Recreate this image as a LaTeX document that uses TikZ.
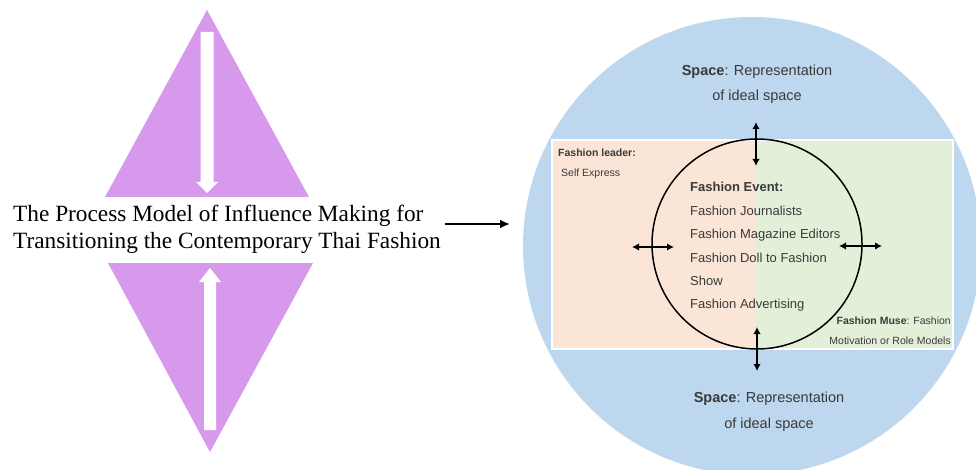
\documentclass[tikz,border=0pt]{standalone}
\usepackage{fontspec}
\setmainfont{Liberation Serif}
\setsansfont{Liberation Sans}
\usetikzlibrary{arrows.meta}
\definecolor{purp}{HTML}{D699EC}
\definecolor{skyb}{HTML}{BDD7EE}
\definecolor{peach}{HTML}{FBE5D6}
\definecolor{lgreen}{HTML}{E2F0D9}
\definecolor{txtg}{HTML}{3A3A3A}
\tikzset{
  titletxt/.style={inner sep=0pt, anchor=base west, font=\fontsize{23.3}{26}\selectfont},
  spacetxt/.style={inner sep=0pt, anchor=base, text=txtg, font=\sffamily\fontsize{14.5}{17}\selectfont},
  evtxt/.style={inner sep=0pt, anchor=base west, text=txtg, font=\sffamily\fontsize{13}{15}\selectfont},
  smalltxt/.style={inner sep=0pt, text=txtg, font=\sffamily\fontsize{10.5}{12}\selectfont},
  dbl/.style={{Latex[length=7pt,width=7.5pt]}-{Latex[length=7pt,width=7.5pt]}, line width=1.8pt, black},
}
\begin{document}
\begin{tikzpicture}[x=1pt,y=-1pt]
\useasboundingbox (0,0) rectangle (976,470);
% left diamond
\fill[purp] (207,10) -- (309,197) -- (105,197) -- cycle;
\fill[purp] (108,263) -- (313,263) -- (210,452) -- cycle;
\fill[white] (200.5,32) -- (213.5,32) -- (213.5,182) -- (218,182) -- (207,193) -- (196,182) -- (200.5,182) -- cycle;
\fill[white] (210,268) -- (221,282) -- (216,282) -- (216,430) -- (204,430) -- (204,282) -- (199,282) -- cycle;
\node[titletxt] (t1) at (13,222) {The Process Model of Influence Making for};
\node[titletxt] (t2) at (13,248) {Transitioning the Contemporary Thai Fashion};
% right big circle
\fill[skyb] (752,246) circle (229);
\fill[peach] (552,140) rectangle (755,349);
\fill[lgreen] (755,140) rectangle (953,349);
\draw[white, line width=1.2pt] (552,140) rectangle (953,349);
\node[draw=black, line width=1.5pt, circle, minimum size=210pt, inner sep=0pt] (ev) at (757,244) {};
\coordinate (as) at (445,224);
\coordinate (ae) at (510,224);
\draw[-{Latex[length=10pt,width=9pt]}, line width=1.8pt] (as) -- (ae);
% double arrows
\coordinate (u1) at (756,122);
\coordinate (u2) at (756,166);
\coordinate (d1) at (757,327);
\coordinate (d2) at (757,371);
\coordinate (l1) at (632,247);
\coordinate (l2) at (674,247);
\coordinate (r1) at (839,246);
\coordinate (r2) at (882,246);
\draw[dbl] (u1) -- (u2);
\draw[dbl] (d1) -- (d2);
\draw[dbl] (l1) -- (l2);
\draw[dbl] (r1) -- (r2);
% texts
\node[spacetxt] (s1) at (757,76) {\textbf{Space}: Representation};
\node[spacetxt] (s2) at (757,101) {of ideal space};
\node[spacetxt] (s3) at (769,402) {\textbf{Space}: Representation};
\node[spacetxt] (s4) at (769,428) {of ideal space};
\node[smalltxt, anchor=base west] (fl1) at (558,157) {\textbf{Fashion leader:}};
\node[smalltxt, anchor=base west] (fl2) at (561,177) {Self Express};
\node[evtxt] (e1) at (690,192) {\textbf{Fashion Event:}};
\node[evtxt] (e2) at (690,215) {Fashion Journalists};
\node[evtxt] (e3) at (690,238) {Fashion Magazine Editors};
\node[evtxt] (e4) at (690,262) {Fashion Doll to Fashion};
\node[evtxt] (e5) at (690,285) {Show};
\node[evtxt] (e6) at (690,308) {Fashion Advertising};
\node[smalltxt, anchor=base east] (m1) at (951,324) {\textbf{Fashion Muse}: Fashion};
\node[smalltxt, anchor=base east] (m2) at (951,344) {Motivation or Role Models};
\end{tikzpicture}
\end{document}
